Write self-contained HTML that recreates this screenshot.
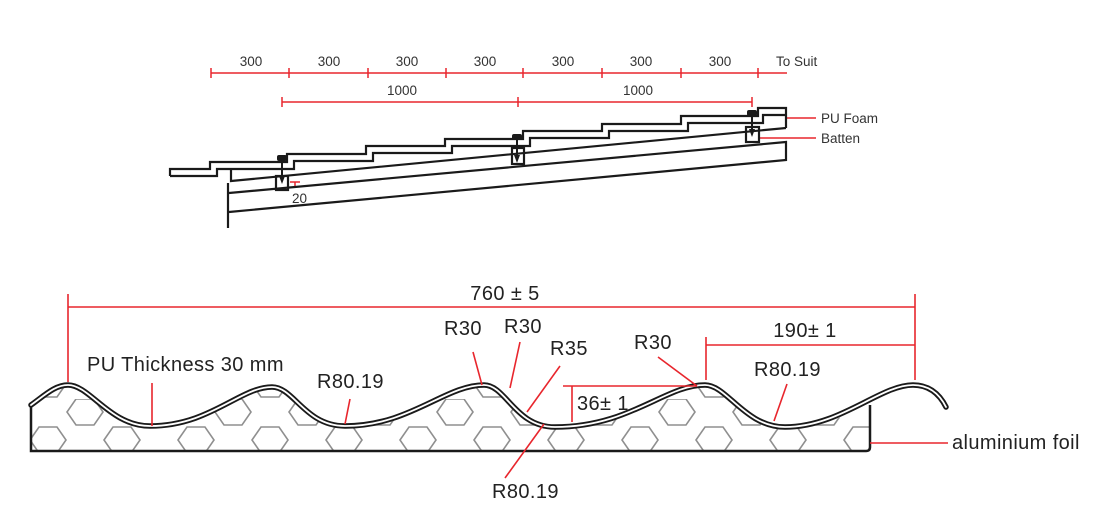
<!DOCTYPE html>
<html><head><meta charset="utf-8"><style>
html,body{margin:0;padding:0;background:#fff}
svg{display:block}
text{font-family:"Liberation Sans","DejaVu Sans",sans-serif}
</style></head><body>
<svg width="1109" height="508" viewBox="0 0 1109 508" xmlns="http://www.w3.org/2000/svg">
<defs>
<pattern id="hex" width="74" height="56" patternUnits="userSpaceOnUse" x="-7" y="399">
<g fill="none" stroke="#8f8f8f" stroke-width="1.6">
<polygon points="0,13 9,0 27,0 36,13 27,26 9,26"/>
<polygon points="74,13 83,0 101,0 110,13 101,26 83,26"/>
<polygon points="37,41 46,28 64,28 73,41 64,54 46,54"/>
<polygon points="-37,41 -28,28 -10,28 -1,41 -10,54 -28,54"/>
<polygon points="0,-15 9,-28 27,-28 36,-15 27,-2 9,-2"/>
<polygon points="37,-15 46,-28 64,-28 73,-15 64,-2 46,-2"/>
</g>
</pattern>
<clipPath id="foamclip">
<path d="M31,405 C45,395 55,385 68,385 C90,385 110,426 150,426 C210,426 240,387 272,387 C294,387 305,426 345,426 C410,426 445,385 484,385 C506,385 515,427 555,427 C630,427 665,385 705,385 C727,385 745,427 785,427 C830,427 850,412 870,405 L870,451 L31,451 Z"/>
</clipPath>
</defs>

<!-- top dimensions -->
<g stroke="#e8262d" stroke-width="1.5" fill="none">
<line x1="211" y1="73" x2="787" y2="73"/>
<line x1="211" y1="68" x2="211" y2="78"/><line x1="289" y1="68" x2="289" y2="78"/>
<line x1="368" y1="68" x2="368" y2="78"/><line x1="446" y1="68" x2="446" y2="78"/>
<line x1="523" y1="68" x2="523" y2="78"/><line x1="602" y1="68" x2="602" y2="78"/>
<line x1="681" y1="68" x2="681" y2="78"/><line x1="758" y1="68" x2="758" y2="78"/>
<line x1="282" y1="102" x2="752" y2="102"/>
<line x1="282" y1="97" x2="282" y2="107"/><line x1="518" y1="97" x2="518" y2="107"/><line x1="752" y1="97" x2="752" y2="107"/>
<line x1="786" y1="118" x2="816" y2="118"/>
<line x1="760" y1="138" x2="816" y2="138"/>
<line x1="290" y1="182" x2="300" y2="182"/><line x1="295" y1="182" x2="295" y2="187"/>
</g>
<g font-size="13.5" fill="#333">
<text x="251" y="66" text-anchor="middle">300</text>
<text x="329" y="66" text-anchor="middle">300</text>
<text x="407" y="66" text-anchor="middle">300</text>
<text x="485" y="66" text-anchor="middle">300</text>
<text x="563" y="66" text-anchor="middle">300</text>
<text x="641" y="66" text-anchor="middle">300</text>
<text x="720" y="66" text-anchor="middle">300</text>
<text x="776" y="66">To Suit</text>
<text x="402" y="95" text-anchor="middle">1000</text>
<text x="638" y="95" text-anchor="middle">1000</text>
<text x="821" y="123">PU Foam</text>
<text x="821" y="143">Batten</text>
<text x="292" y="203">20</text>
</g>

<!-- roof drawing -->
<g stroke="#1a1a1a" stroke-width="2.2" fill="none" stroke-linejoin="miter">
<path d="M170,176 L170,169 L210,169 L210,162 L287,162 L287,154 L366,154 L366,146 L445,146 L445,139 L523,139 L523,131 L602,131 L602,124 L681,124 L681,116 L758,116 L758,108 L786,108 L786,128"/>
<path d="M170,176 L217,176 L217,169 L294,169 L294,161 L373,161 L373,153 L452,153 L452,146 L530,146 L530,138 L609,138 L609,131 L688,131 L688,123 L763,123 L763,115 L786,115"/>
<path d="M231,170 L231,181 L786,128"/>
<path d="M229,193 L786,142 L786,160 L229,212"/>
<path d="M228,183 L228,228"/>
<rect x="276" y="176" width="12" height="14"/>
<rect x="512" y="148" width="12" height="16"/>
<rect x="746" y="127" width="13" height="15"/>
</g>
<g fill="#1a1a1a">
<rect x="277" y="155" width="10" height="6" rx="2"/>
<rect x="281" y="160" width="2" height="20"/><polygon points="279,176 285,176 282,184"/>
<rect x="512" y="134" width="10" height="6" rx="2"/>
<rect x="516" y="139" width="2" height="20"/><polygon points="514,155 520,155 517,163"/>
<rect x="747" y="110" width="10" height="6" rx="2"/>
<rect x="751" y="115" width="2" height="18"/><polygon points="749,129 755,129 752,137"/>
</g>

<!-- bottom profile -->
<rect x="20" y="380" width="860" height="75" fill="url(#hex)" clip-path="url(#foamclip)"/>
<path d="M31,405 L31,451 L866,451 Q870,451 870,447 L870,405" fill="none" stroke="#1a1a1a" stroke-width="2.5"/>
<path d="M31,405 C45,395 55,385 68,385 C90,385 110,426 150,426 C210,426 240,387 272,387 C294,387 305,426 345,426 C410,426 445,385 484,385 C506,385 515,427 555,427 C630,427 665,385 705,385 C727,385 745,427 785,427 C840,427 880,385 913,385 C930,385 940,395 946,407" fill="none" stroke="#1a1a1a" stroke-width="5.5" stroke-linecap="round"/>
<path d="M31,405 C45,395 55,385 68,385 C90,385 110,426 150,426 C210,426 240,387 272,387 C294,387 305,426 345,426 C410,426 445,385 484,385 C506,385 515,427 555,427 C630,427 665,385 705,385 C727,385 745,427 785,427 C840,427 880,385 913,385 C930,385 940,395 946,407" fill="none" stroke="#fff" stroke-width="1.8" stroke-linecap="round"/>

<g stroke="#e8262d" stroke-width="1.6" fill="none">
<line x1="68" y1="307" x2="915" y2="307"/>
<line x1="68" y1="294" x2="68" y2="382"/>
<line x1="915" y1="294" x2="915" y2="380"/>
<line x1="706" y1="345" x2="915" y2="345"/>
<line x1="706" y1="337" x2="706" y2="380"/>
<line x1="563" y1="386" x2="697" y2="386"/>
<line x1="572" y1="386" x2="572" y2="422"/>
<line x1="152" y1="383" x2="152" y2="426"/>
<line x1="350" y1="399" x2="345" y2="424"/>
<line x1="473" y1="352" x2="482" y2="385"/>
<line x1="520" y1="342" x2="510" y2="388"/>
<line x1="560" y1="366" x2="527" y2="412"/>
<line x1="658" y1="357" x2="697" y2="386"/>
<line x1="787" y1="384" x2="774" y2="421"/>
<line x1="505" y1="478" x2="544" y2="424"/>
<line x1="870" y1="443" x2="948" y2="443"/>
</g>
<g font-size="20" fill="#222" letter-spacing="0.4">
<text x="505" y="300" text-anchor="middle">760 ± 5</text>
<text x="805" y="337" text-anchor="middle">190± 1</text>
<text x="577" y="410">36± 1</text>
<text x="87" y="371">PU Thickness 30 mm</text>
<text x="317" y="388">R80.19</text>
<text x="444" y="335">R30</text>
<text x="504" y="333">R30</text>
<text x="550" y="355">R35</text>
<text x="634" y="349">R30</text>
<text x="754" y="376">R80.19</text>
<text x="492" y="498">R80.19</text>
<text x="952" y="449">aluminium foil</text>
</g>
</svg>
</body></html>
